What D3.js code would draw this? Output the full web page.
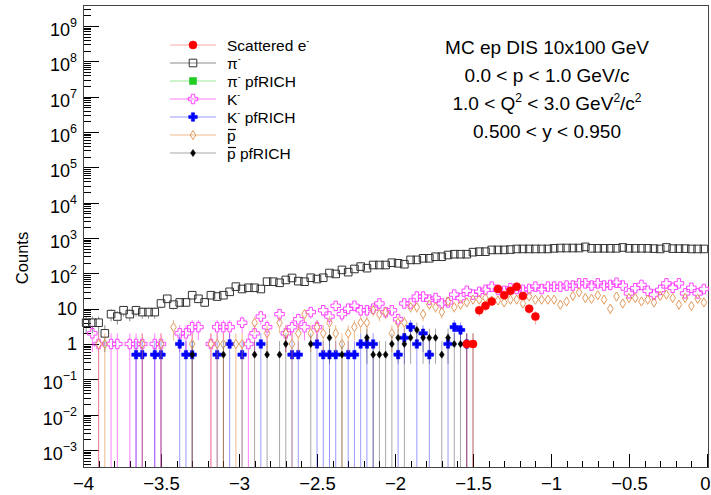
<!DOCTYPE html>
<html><head><meta charset="utf-8">
<script src="https://cdn.jsdelivr.net/npm/d3@7"></script>
<style>body{margin:0;background:#fff} text{font-family:"Liberation Sans",Arial,Helvetica,sans-serif}</style>
</head><body><svg id="c" width="711" height="495"></svg>
<script>
// ---- data (100 bins of width 0.04 from -4 to 0) ----
const binStart = -4, binWidth = 0.04;
const electron = [
0,0,0,0,0,0,0,0,0,0, 0,0,0,0,0,0,0,0,0,0, 0,0,0,0,0,0,0,0,0,0, 0,0,0,0,0,0,0,0,0,0,
0,0,0,0,0,0,0,0,0,0, 0,0,0,0,0,0,0,0,0,0, 0,1,1,9,12,16,36,24,32,42, 23,10,6,0,0,0,0,0,0,0,
0,0,0,0,0,0,0,0,0,0, 0,0,0,0,0,0,0,0,0,0];
const pion = [
4,4,4,2,7,6,9,7,9,8, 8,8,14,19,13,15,15,24,19,15, 24,22,24,30,42,36,39,39,36,58,
58,54,65,74,60,58,75,69,75,102, 96,125,108,133,155,140,172,172,172,200,
192,181,240,240,266,266,295,295,330,348, 348,348,397,410,410,460,460,460,470,490,
490,490,490,490,490,510,520,520,520,520, 560,510,510,510,510,510,540,510,510,510,
510,500,490,540,500,500,500,490,490,490];
const pionRich = new Array(100).fill(0);
const kaon = [
0,2,1,0,1,1,0,1,1,1, 0,1,1,0,0,2,2,3,3,0, 1,3,3,3,0,4,1,2,6,3, 0,7,2,3,5,3,8,3,9,6,
12,7,10,12,9,9,10,14,8,9, 5,14,14,22,22,18,20,14,15,25, 20,32,25,30,34,42,34,32,38,36,
34,36,42,36,42,42,42,45,45,52, 52,45,52,45,47,54,45,27,38,47, 32,25,34,52,39,52,27,39,27,36];
const kaonRich = [
0,0,0,0,0,0,0,0,0.5,0.5, 0,0.5,0.5,0,0,1,0.5,0.5,0,0, 0,0.5,0,1,0,0.5,0,0,1,0,
0,0,0,0.5,0.5,0,0,1,0.5,0.5, 0.5,0,0.5,0.5,1,1,1,0,0,0, 0.5,1.5,3,1,2,0.5,0,0,1,3,
2.5,1,0,0,0,0,0,0,0,0, 0,0,0,0,0,0,0,0,0,0, 0,0,0,0,0,0,0,0,0,0, 0,0,0,0,0,0,0,0,0,0];
const pbar = [
0,0,1,1,0,0,0,0,0,1, 0,0,1,0,3,0,0,1,0,0, 1,1,1,0,1,1,0,4,0,2, 0,4,2,1,2,7,2,3,2,4,
2,1,2,3,4,4,9,7,8,2, 4,4,11,11,7,13,11,8,16,11, 13,15,18,18,20,17,17,15,18,18,
14,22,18,18,18,18,13,16,23,29, 20,19,24,18,10,22,14,20,20,16, 18,15,23,25,20,13,20,12,19,15];
const pbarRich = [
0,0,0,0,0,0,0,0,0,0, 0,0,0,0,0,0,0,0.5,0,0, 0,0,0.5,0,0,0,0,0.5,0,0.5,
0,0.5,1,0,0,0,1,0,0,1.5, 0,0.5,0,0,0,1.5,0.5,0.5,0.5,1, 1.5,1,1.5,2.5,1.5,1.5,1.5,0.5,1.5,1,
1,1,1,0,0,0,0,0,0,0, 0,0,0,0,0,0,0,0,0,0, 0,0,0,0,0,0,0,0,0,0, 0,0,0,0,0,0,0,0,0,0];
const xTicks = [-4,-3.5,-3,-2.5,-2,-1.5,-1,-0.5,0];
const yExponents = [-3,-2,-1,0,1,2,3,4,5,6,7,8,9];
const infoLines = ["MC ep DIS 10x100 GeV","0.0 < p < 1.0 GeV/c","1.0 < Q2 < 3.0 GeV2/c2","0.500 < y < 0.950"];

// ---- setup ----
const svg = d3.select('#c');
const L=83, R=707, T=5, B=467;
const x = d3.scaleLinear().domain([-4,0]).range([L,R]);
const y = d3.scaleLog().domain([3.3e-4,3.93e9]).range([B,T]);
svg.append('rect').attr('width',711).attr('height',495).attr('fill','#fff');

// ---- markers ----
function crossPath(s,a){const h=s/2,b=a/2;return `M${-b},${-h}H${b}V${-b}H${h}V${b}H${b}V${h}H${-b}V${b}H${-h}V${-b}H${-b}Z`;}
function diamondPath(w,h){return `M0,${-h}L${w},0L0,${h}L${-w},0Z`;}
const shapes = {
  circle:{d:d3.symbol(d3.symbolCircle,50)(),half:4,fill:true},
  osquare:{d:'M-3.8,-3.8H3.8V3.8H-3.8Z',half:3.8,fill:false},
  fsquare:{d:'M-3.5,-3.5H3.5V3.5H-3.5Z',half:3.5,fill:true},
  ocross:{d:crossPath(9.5,3.4),half:4.75,fill:false},
  fcross:{d:crossPath(8.5,3.2),half:4.25,fill:true},
  odiamond:{d:diamondPath(2.8,4.6),half:4.6,fill:false},
  fdiamond:{d:diamondPath(2.4,3.6),half:3.6,fill:true}
};
const series = [
  {key:'pion', data:pion, color:'#333', line:'rgba(0,0,0,0.45)', shape:'osquare'},
  {key:'pionRich', data:pionRich, color:'#22cc22', line:'rgba(0,200,0,0.4)', shape:'fsquare'},
  {key:'kaon', data:kaon, color:'#ff44ff', line:'rgba(255,0,255,0.5)', shape:'ocross'},
  {key:'kaonRich', data:kaonRich, color:'#0000ff', line:'rgba(0,0,255,0.4)', shape:'fcross'},
  {key:'pbar', data:pbar, color:'#e39a5c', line:'rgba(225,130,50,0.55)', shape:'odiamond'},
  {key:'pbarRich', data:pbarRich, color:'#000', line:'rgba(0,0,0,0.35)', shape:'fdiamond'},
  {key:'electron', data:electron, color:'#ff0000', line:'rgba(255,0,0,0.35)', shape:'circle'}
];
const center = i => x(binStart + (i+0.5)*binWidth);

// ---- axes ----
const yMinor=[];
for(let e=-4;e<=9;e++) for(let m=2;m<=9;m++){const v=m*Math.pow(10,e); if(v>=y.domain()[0]&&v<=y.domain()[1]) yMinor.push(v);}
const ax = svg.append('g');
function clean(g){g.select('.domain').remove(); g.selectAll('line').attr('stroke','#000').attr('shape-rendering','crispEdges');}
ax.append('g').attr('transform',`translate(${L},0)`).call(d3.axisLeft(y).tickValues(yMinor).tickSize(-8).tickFormat('')).call(clean);
ax.append('g').attr('transform',`translate(${L},0)`).call(d3.axisLeft(y).tickValues(yExponents.map(e=>Math.pow(10,e))).tickSize(-16).tickFormat('')).call(clean);
ax.append('g').attr('transform',`translate(0,${B})`).call(d3.axisBottom(x).tickValues(d3.range(-40,1,1).map(v=>v/10)).tickSize(-6.5).tickFormat('')).call(clean);
const xa = ax.append('g').attr('transform',`translate(0,${B})`).call(d3.axisBottom(x).tickValues(xTicks).tickSize(-13).tickPadding(10)
  .tickFormat(d=> d===0?'0':'\u2212'+Math.abs(d)));
xa.call(clean);
xa.selectAll('text').attr('font-size',18.5).attr('fill','#000').style('font-family','"Liberation Sans",Arial,sans-serif');
xa.selectAll('text').filter(d=>d===0).attr('text-anchor','end').attr('x',3);
svg.append('rect').attr('x',L).attr('y',T).attr('width',R-L+1).attr('height',B-T).attr('fill','none')
  .attr('stroke','#444').attr('shape-rendering','crispEdges');

// y labels
yExponents.forEach(e=>{
  const v=Math.pow(10,e), yy=y(v);
  const t=svg.append('text').attr('x',77).attr('text-anchor','end').attr('font-size',18).attr('fill','#000');
  if(e===0){t.attr('y',yy+6.5).text('1');}
  else if(e===1){t.attr('y',yy+6.5).text('10');}
  else{
    t.attr('y',yy+10);
    t.append('tspan').text('10');
    t.append('tspan').attr('dy',-9).attr('font-size',12.5).text(String(e).replace('-','\u2212'));
  }
});
svg.append('text').attr('transform','translate(28,258) rotate(-90)').attr('text-anchor','middle')
  .attr('font-size',16.5).text('Counts');

// ---- data marks ----
const plot = svg.append('g');
series.forEach(s=>{
  const pts = s.data.map((v,i)=>({i,v})).filter(d=>d.v>0);
  const sh = shapes[s.shape];
  const g = plot.append('g');
  pts.forEach(d=>{
    const cx=center(d.i), cy=y(d.v), err=Math.sqrt(d.v);
    const top=y(d.v+err), lowV=d.v-err, bot= lowV>y.domain()[0]? y(lowV) : B;
    if(cy-sh.half>top) g.append('line').attr('x1',cx).attr('x2',cx).attr('y1',top).attr('y2',cy-sh.half).attr('stroke',s.line);
    if(bot>cy+sh.half) g.append('line').attr('x1',cx).attr('x2',cx).attr('y1',cy+sh.half).attr('y2',bot).attr('stroke',s.line);
  });
  g.selectAll('path.m').data(pts).join('path').attr('class','m').attr('d',sh.d)
    .attr('transform',d=>`translate(${center(d.i)},${y(d.v)})`)
    .attr('fill',sh.fill?s.color:'none').attr('stroke',s.color).attr('stroke-width',sh.fill?0.6:1);
});

// ---- legend ----
const legendItems = [
  {k:'electron', label:['Scattered e','-']},
  {k:'pion', label:['\u03c0','-']},
  {k:'pionRich', label:['\u03c0','-',' pfRICH']},
  {k:'kaon', label:['K','-']},
  {k:'kaonRich', label:['K','-',' pfRICH']},
  {k:'pbar', label:['p','',''], bar:true},
  {k:'pbarRich', label:['p','',' pfRICH'], bar:true}
];
const lg = svg.append('g');
legendItems.forEach((it,j)=>{
  const s = series.find(q=>q.key===it.k), sh=shapes[s.shape];
  const yy = 45 + j*18;
  lg.append('line').attr('x1',170).attr('x2',216).attr('y1',yy).attr('y2',yy).attr('stroke',s.line).attr('stroke-width',1.2);
  lg.append('path').attr('d',sh.d).attr('transform',`translate(193,${yy})`)
    .attr('fill',sh.fill?s.color:'none').attr('stroke',s.color).attr('stroke-width',sh.fill?0.6:1);
  const t = lg.append('text').attr('x',227).attr('y',yy+5.5).attr('font-size',15.5).attr('fill','#000');
  t.append('tspan').text(it.label[0]);
  if(it.label[1]) t.append('tspan').attr('dy',-7).attr('font-size',9).text(it.label[1]);
  if(it.label[2]) t.append('tspan').attr('dy',it.label[1]?7:0).text(it.label[2]);
  if(it.bar) lg.append('line').attr('x1',228).attr('x2',236).attr('y1',yy-5.5).attr('y2',yy-5.5)
    .attr('stroke','#000').attr('stroke-width',1.2);
});

// ---- info text ----
const info = svg.append('g').attr('font-size',19).attr('fill','#000');
const infoY = [54,82,110,138];
infoLines.forEach((s,j)=>{
  const t = info.append('text').attr('x',547).attr('y',infoY[j]).attr('text-anchor','middle');
  if(j===2){
    t.append('tspan').text('1.0 < Q');
    t.append('tspan').attr('dy',-8).attr('font-size',12).text('2');
    t.append('tspan').attr('dy',8).text(' < 3.0 GeV');
    t.append('tspan').attr('dy',-8).attr('font-size',12).text('2');
    t.append('tspan').attr('dy',8).text('/c');
    t.append('tspan').attr('dy',-8).attr('font-size',12).text('2');
  } else t.text(s);
});
</script></body></html>
